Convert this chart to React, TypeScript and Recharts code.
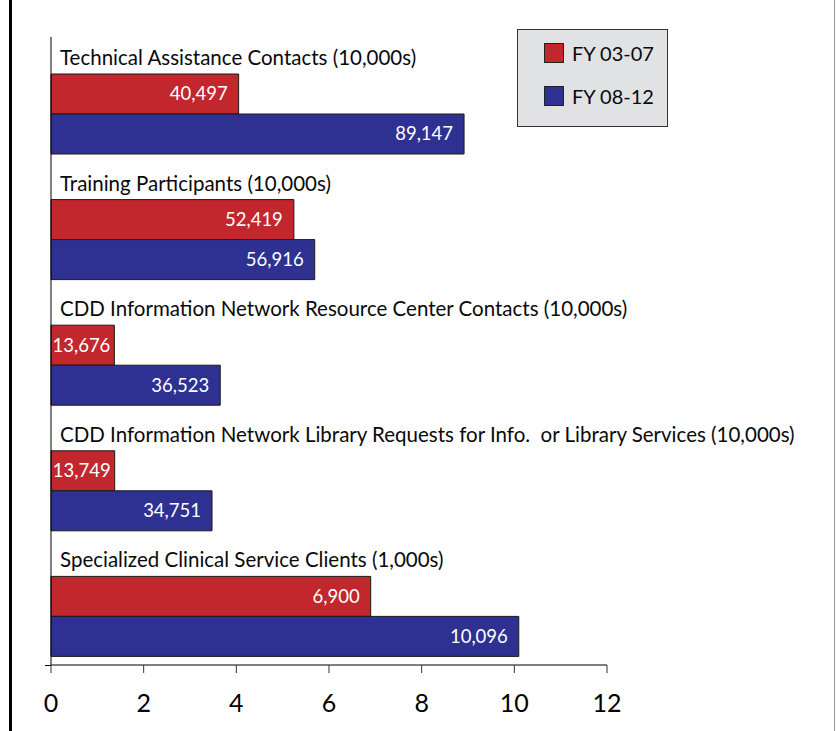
import React from 'react';
import { BarChart, Bar, XAxis, YAxis, LabelList, Legend } from 'recharts';

const categories = [
  'Technical Assistance Contacts (10,000s)',
  'Training Participants (10,000s)',
  'CDD Information Network Resource Center Contacts (10,000s)',
  'CDD Information Network Library Requests for Info.  or Library Services (10,000s)',
  'Specialized Clinical Service Clients (1,000s)',
];
const fy0307 = [4.0497, 5.2419, 1.3676, 1.3749, 6.9];
const fy0812 = [8.9147, 5.6916, 3.6523, 3.4751, 10.096];
const labels0307 = ['40,497', '52,419', '13,676', '13,749', '6,900'];
const labels0812 = ['89,147', '56,916', '36,523', '34,751', '10,096'];
const xTicks = [0, 2, 4, 6, 8, 10, 12];

const RED = '#c1272d';
const BLUE = '#2e3192';
const FONT = 'Lato, "Open Sans", sans-serif';

const data = categories.map((name, i) => ({
  name,
  a: fy0307[i],
  b: fy0812[i],
  la: labels0307[i],
  lb: labels0812[i],
}));

// group title sits above its pair of bars, starting just right of the axis
const GroupTick = (props: any) => {
  const { y, payload } = props;
  return (
    <text x={60} y={y - 56} dy="0.35em" fontSize={20.5} fontFamily={FONT} fill="#0a0a0a" style={{ whiteSpace: 'pre' }}>
      {payload.value}
    </text>
  );
};

// value written inside the right end of the bar; short bars get a tighter inset
const ValueLabel = (props: any) => {
  const { x, y, width, height, value } = props;
  const inset = width < 90 ? 4 : 11;
  return (
    <text
      x={x + width - inset}
      y={y + height / 2}
      dy="0.35em"
      textAnchor="end"
      fill="#fff"
      fontSize={18.5}
      fontFamily={FONT}
    >
      {value}
    </text>
  );
};

const LegendBox = () => (
  <div
    style={{
      width: 151,
      height: 98,
      boxSizing: 'border-box',
      background: '#e1e2e4',
      border: '1px solid #333',
      fontFamily: FONT,
      fontSize: 20,
      color: '#0a0a0a',
      paddingLeft: 26,
      paddingTop: 12,
    }}
  >
    {[
      { c: RED, t: 'FY 03-07' },
      { c: BLUE, t: 'FY 08-12' },
    ].map((it, i) => (
      <div key={i} style={{ display: 'flex', alignItems: 'center', height: 22, marginBottom: i === 0 ? 21 : 0 }}>
        <span
          style={{
            display: 'inline-block',
            width: 20,
            height: 20,
            background: it.c,
            border: '1px solid #222',
            boxSizing: 'border-box',
            marginRight: 8,
          }}
        />
        <span>{it.t}</span>
      </div>
    ))}
  </div>
);

export default function App() {
  return (
    <div style={{ position: 'absolute', left: 0, top: 0, width: 836, height: 731, background: '#fff' }}>
      <div style={{ position: 'absolute', left: 9, top: 0, width: 3, height: 731, background: '#000' }} />
      <div style={{ position: 'absolute', left: 834, top: 0, width: 1, height: 731, background: '#999' }} />
      <div style={{ position: 'absolute', left: 45, top: 665, width: 6, height: 1, background: '#000' }} />
      <BarChart
        width={836}
        height={731}
        data={data}
        layout="vertical"
        margin={{ top: 37, right: 229, bottom: 0, left: 50 }}
        barGap={0}
        barSize={40}
      >
        <XAxis
          type="number"
          domain={[0, 12]}
          ticks={xTicks}
          height={66}
          tickSize={8}
          tickMargin={21}
          stroke="#000"
          tickLine={{ stroke: '#333' }}
          tick={{ fontSize: 25, fill: '#000', fontFamily: FONT }}
        />
        <YAxis
          type="category"
          dataKey="name"
          width={1}
          padding={{ top: 14, bottom: -14 }}
          tickLine={false}
          stroke="#000"
          tick={<GroupTick />}
          interval={0}
        />
        <Legend
          layout="vertical"
          verticalAlign="middle"
          align="center"
          wrapperStyle={{ left: 517, top: 29, width: 151 }}
          content={<LegendBox />}
        />
        <Bar dataKey="a" name="FY 03-07" fill={RED} stroke="#1a1a1a" strokeWidth={1} isAnimationActive={false}>
          <LabelList dataKey="la" content={<ValueLabel />} />
        </Bar>
        <Bar dataKey="b" name="FY 08-12" fill={BLUE} stroke="#1a1a1a" strokeWidth={1} isAnimationActive={false}>
          <LabelList dataKey="lb" content={<ValueLabel />} />
        </Bar>
      </BarChart>
    </div>
  );
}
